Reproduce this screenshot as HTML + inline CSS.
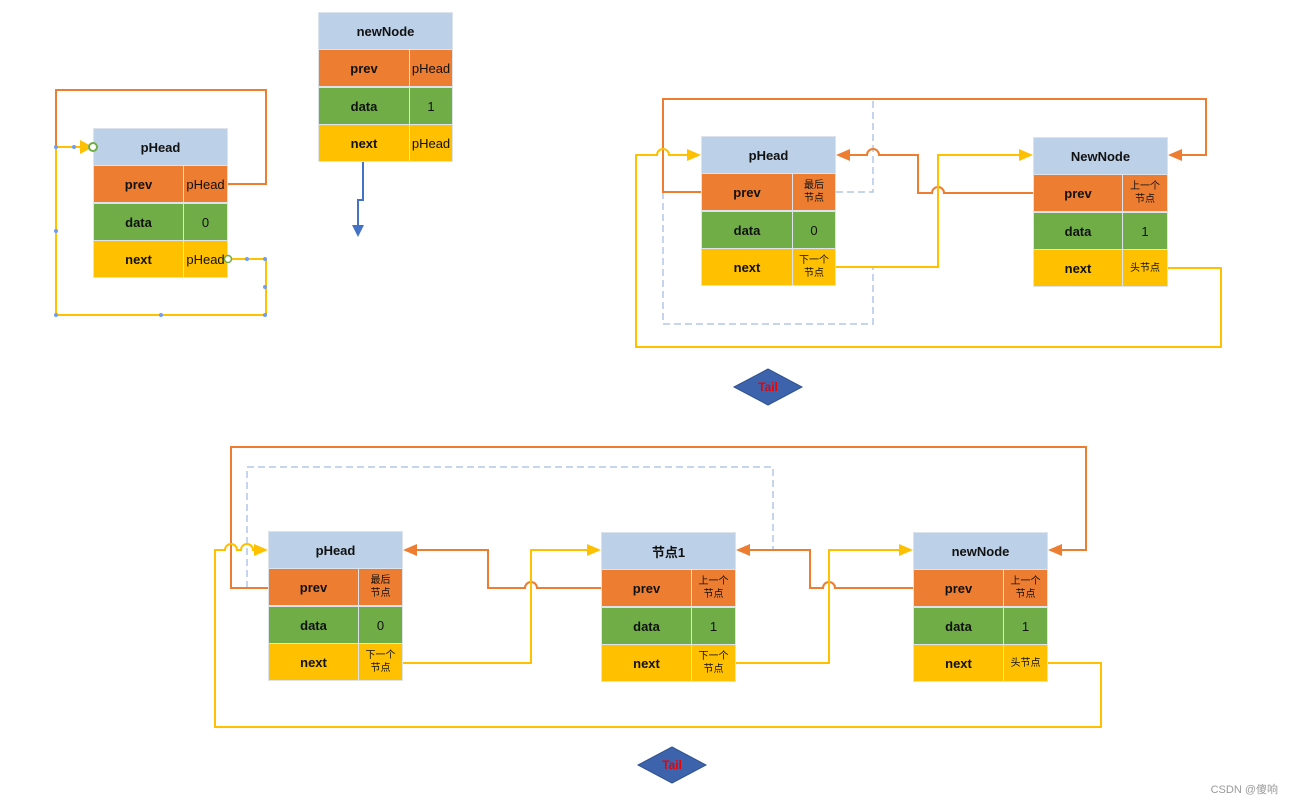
<!DOCTYPE html>
<html><head><meta charset="utf-8">
<style>
body{margin:0;width:1292px;height:805px;background:#fff;position:relative;overflow:hidden;font-family:"Liberation Sans","Noto Sans CJK SC",sans-serif;}
.n{position:absolute;width:135px;height:150px;}
.c{position:absolute;box-sizing:border-box;border:1px solid #dde3ea;display:flex;align-items:center;justify-content:center;text-align:center;font-size:13px;color:#111;}
.h{background:#bcd0e8;font-weight:bold;}
.p{background:#ed7d31;}
.d{background:#70ad47;}
.x{background:#ffc000;}
.b{font-weight:bold;}
.s{font-size:10px;line-height:13px;}
svg{position:absolute;left:0;top:0;}
</style></head><body>

<!-- node A -->
<div class="n" style="left:93px;top:128px">
<div class="c h" style="left:0;top:0;width:135px;height:38px">pHead</div>
<div class="c p b" style="left:0;top:37px;width:91px;height:38px">prev</div><div class="c p" style="left:90px;top:37px;width:45px;height:38px">pHead</div>
<div class="c d b" style="left:0;top:75px;width:91px;height:38px">data</div><div class="c d" style="left:90px;top:75px;width:45px;height:38px">0</div>
<div class="c x b" style="left:0;top:112px;width:91px;height:38px">next</div><div class="c x" style="left:90px;top:112px;width:45px;height:38px">pHead</div>
</div>
<!-- newNode top -->
<div class="n" style="left:318px;top:12px">
<div class="c h" style="left:0;top:0;width:135px;height:38px">newNode</div>
<div class="c p b" style="left:0;top:37px;width:92px;height:38px">prev</div><div class="c p" style="left:91px;top:37px;width:44px;height:38px">pHead</div>
<div class="c d b" style="left:0;top:75px;width:92px;height:38px">data</div><div class="c d" style="left:91px;top:75px;width:44px;height:38px">1</div>
<div class="c x b" style="left:0;top:112px;width:92px;height:38px">next</div><div class="c x" style="left:91px;top:112px;width:44px;height:38px">pHead</div>
</div>
<!-- top right pHead -->
<div class="n" style="left:701px;top:136px">
<div class="c h" style="left:0;top:0;width:135px;height:38px">pHead</div>
<div class="c p b" style="left:0;top:37px;width:92px;height:38px">prev</div><div class="c p s" style="left:91px;top:37px;width:44px;height:38px">最后<br>节点</div>
<div class="c d b" style="left:0;top:75px;width:92px;height:38px">data</div><div class="c d" style="left:91px;top:75px;width:44px;height:38px">0</div>
<div class="c x b" style="left:0;top:112px;width:92px;height:38px">next</div><div class="c x s" style="left:91px;top:112px;width:44px;height:38px">下一个<br>节点</div>
</div>
<!-- top right NewNode -->
<div class="n" style="left:1033px;top:137px">
<div class="c h" style="left:0;top:0;width:135px;height:38px">NewNode</div>
<div class="c p b" style="left:0;top:37px;width:90px;height:38px">prev</div><div class="c p s" style="left:89px;top:37px;width:46px;height:38px">上一个<br>节点</div>
<div class="c d b" style="left:0;top:75px;width:90px;height:38px">data</div><div class="c d" style="left:89px;top:75px;width:46px;height:38px">1</div>
<div class="c x b" style="left:0;top:112px;width:90px;height:38px">next</div><div class="c x s" style="left:89px;top:112px;width:46px;height:38px">头节点</div>
</div>
<!-- bottom pHead -->
<div class="n" style="left:268px;top:531px">
<div class="c h" style="left:0;top:0;width:135px;height:38px">pHead</div>
<div class="c p b" style="left:0;top:37px;width:91px;height:38px">prev</div><div class="c p s" style="left:90px;top:37px;width:45px;height:38px">最后<br>节点</div>
<div class="c d b" style="left:0;top:75px;width:91px;height:38px">data</div><div class="c d" style="left:90px;top:75px;width:45px;height:38px">0</div>
<div class="c x b" style="left:0;top:112px;width:91px;height:38px">next</div><div class="c x s" style="left:90px;top:112px;width:45px;height:38px">下一个<br>节点</div>
</div>
<!-- bottom 节点1 -->
<div class="n" style="left:601px;top:532px">
<div class="c h" style="left:0;top:0;width:135px;height:38px">节点1</div>
<div class="c p b" style="left:0;top:37px;width:91px;height:38px">prev</div><div class="c p s" style="left:90px;top:37px;width:45px;height:38px">上一个<br>节点</div>
<div class="c d b" style="left:0;top:75px;width:91px;height:38px">data</div><div class="c d" style="left:90px;top:75px;width:45px;height:38px">1</div>
<div class="c x b" style="left:0;top:112px;width:91px;height:38px">next</div><div class="c x s" style="left:90px;top:112px;width:45px;height:38px">下一个<br>节点</div>
</div>
<!-- bottom newNode -->
<div class="n" style="left:913px;top:532px">
<div class="c h" style="left:0;top:0;width:135px;height:38px">newNode</div>
<div class="c p b" style="left:0;top:37px;width:91px;height:38px">prev</div><div class="c p s" style="left:90px;top:37px;width:45px;height:38px">上一个<br>节点</div>
<div class="c d b" style="left:0;top:75px;width:91px;height:38px">data</div><div class="c d" style="left:90px;top:75px;width:45px;height:38px">1</div>
<div class="c x b" style="left:0;top:112px;width:91px;height:38px">next</div><div class="c x s" style="left:90px;top:112px;width:45px;height:38px">头节点</div>
</div>

<svg width="1292" height="805" viewBox="0 0 1292 805">
<g fill="none" stroke-width="2">
<!-- top-left -->
<path d="M228,184 H266 V90 H56 V147 H82" stroke="#ed7d31"/>
<path d="M228,259 H266 V315 H56 V147 H82" stroke="#ffc000"/>
<path d="M363,162 V200 H358 V226" stroke="#4472c4"/>
<!-- top-right dashed -->
<path d="M836,192 H873 V99 M663,192 V324 H873 V268" stroke="#b4c7e7" stroke-dasharray="7,4" stroke-width="1.5"/>
<path d="M1182,155 H1206 V99 H663 V192 H701" stroke="#ed7d31"/>
<path d="M1033,193 H944 a6,6 0 0 0 -12,0 H918 V155 H879 a6,6 0 0 0 -12,0 H850" stroke="#ed7d31"/>
<path d="M836,267 H938 V155 H1020" stroke="#ffc000"/>
<path d="M1168,268 H1221 V347 H636 V155 H657 a6,6 0 0 1 12,0 H688" stroke="#ffc000"/>
<!-- bottom -->
<path d="M247,588 V467 H773 V550" stroke="#b4c7e7" stroke-dasharray="7,4" stroke-width="1.5"/>
<path d="M1062,550 H1086 V447 H231 V588 H268" stroke="#ed7d31"/>
<path d="M601,588 H537 a6,6 0 0 0 -12,0 H488 V550 H417" stroke="#ed7d31"/>
<path d="M403,663 H531 V550 H588" stroke="#ffc000"/>
<path d="M913,588 H835 a6,6 0 0 0 -12,0 H810 V550 H750" stroke="#ed7d31"/>
<path d="M736,663 H829 V550 H900" stroke="#ffc000"/>
<path d="M1048,663 H1101 V727 H215 V550 H225 a6,6 0 0 1 12,0 H241 a6,6 0 0 1 12,0 H255" stroke="#ffc000"/>
</g>
<g stroke="none">
<polygon points="93,147 80,140 80,154" fill="#ffc000"/>
<polygon points="358,237 352,225 364,225" fill="#4472c4"/>
<polygon points="1168,155 1182,149 1182,161" fill="#ed7d31"/>
<polygon points="836,155 850,149 850,161" fill="#ed7d31"/>
<polygon points="1033,155 1019,149 1019,161" fill="#ffc000"/>
<polygon points="701,155 687,149 687,161" fill="#ffc000"/>
<polygon points="1048,550 1062,544 1062,556" fill="#ed7d31"/>
<polygon points="403,550 417,544 417,556" fill="#ed7d31"/>
<polygon points="601,550 587,544 587,556" fill="#ffc000"/>
<polygon points="736,550 750,544 750,556" fill="#ed7d31"/>
<polygon points="913,550 899,544 899,556" fill="#ffc000"/>
<polygon points="268,550 254,544 254,556" fill="#ffc000"/>
</g>
<circle cx="93" cy="147" r="4" fill="#fff" stroke="#70ad47" stroke-width="2"/>
<circle cx="228" cy="259" r="3.5" fill="#fff" stroke="#70ad47" stroke-width="1.5"/>
<g fill="#6f9ef5"><circle cx="56" cy="147" r="2"/><circle cx="74" cy="147" r="2"/><circle cx="56" cy="231" r="2"/><circle cx="56" cy="315" r="2"/><circle cx="161" cy="315" r="2"/><circle cx="265" cy="315" r="2"/><circle cx="265" cy="287" r="2"/><circle cx="265" cy="259" r="2"/><circle cx="247" cy="259" r="2"/></g>
<polygon points="734,387 768,369 802,387 768,405" fill="#3e63ad" stroke="#2f528f"/>
<text x="768" y="391" font-size="12" font-weight="bold" fill="#e00" text-anchor="middle" font-family="Liberation Sans,sans-serif">Tail</text>
<polygon points="638,765 672,747 706,765 672,783" fill="#3e63ad" stroke="#2f528f"/>
<text x="672" y="769" font-size="12" font-weight="bold" fill="#e00" text-anchor="middle" font-family="Liberation Sans,sans-serif">Tail</text>
<text x="1278" y="793" font-size="11" fill="#999" text-anchor="end" font-family="Liberation Sans,Noto Sans CJK SC,sans-serif">CSDN @傻响</text>
</svg>
</body></html>
